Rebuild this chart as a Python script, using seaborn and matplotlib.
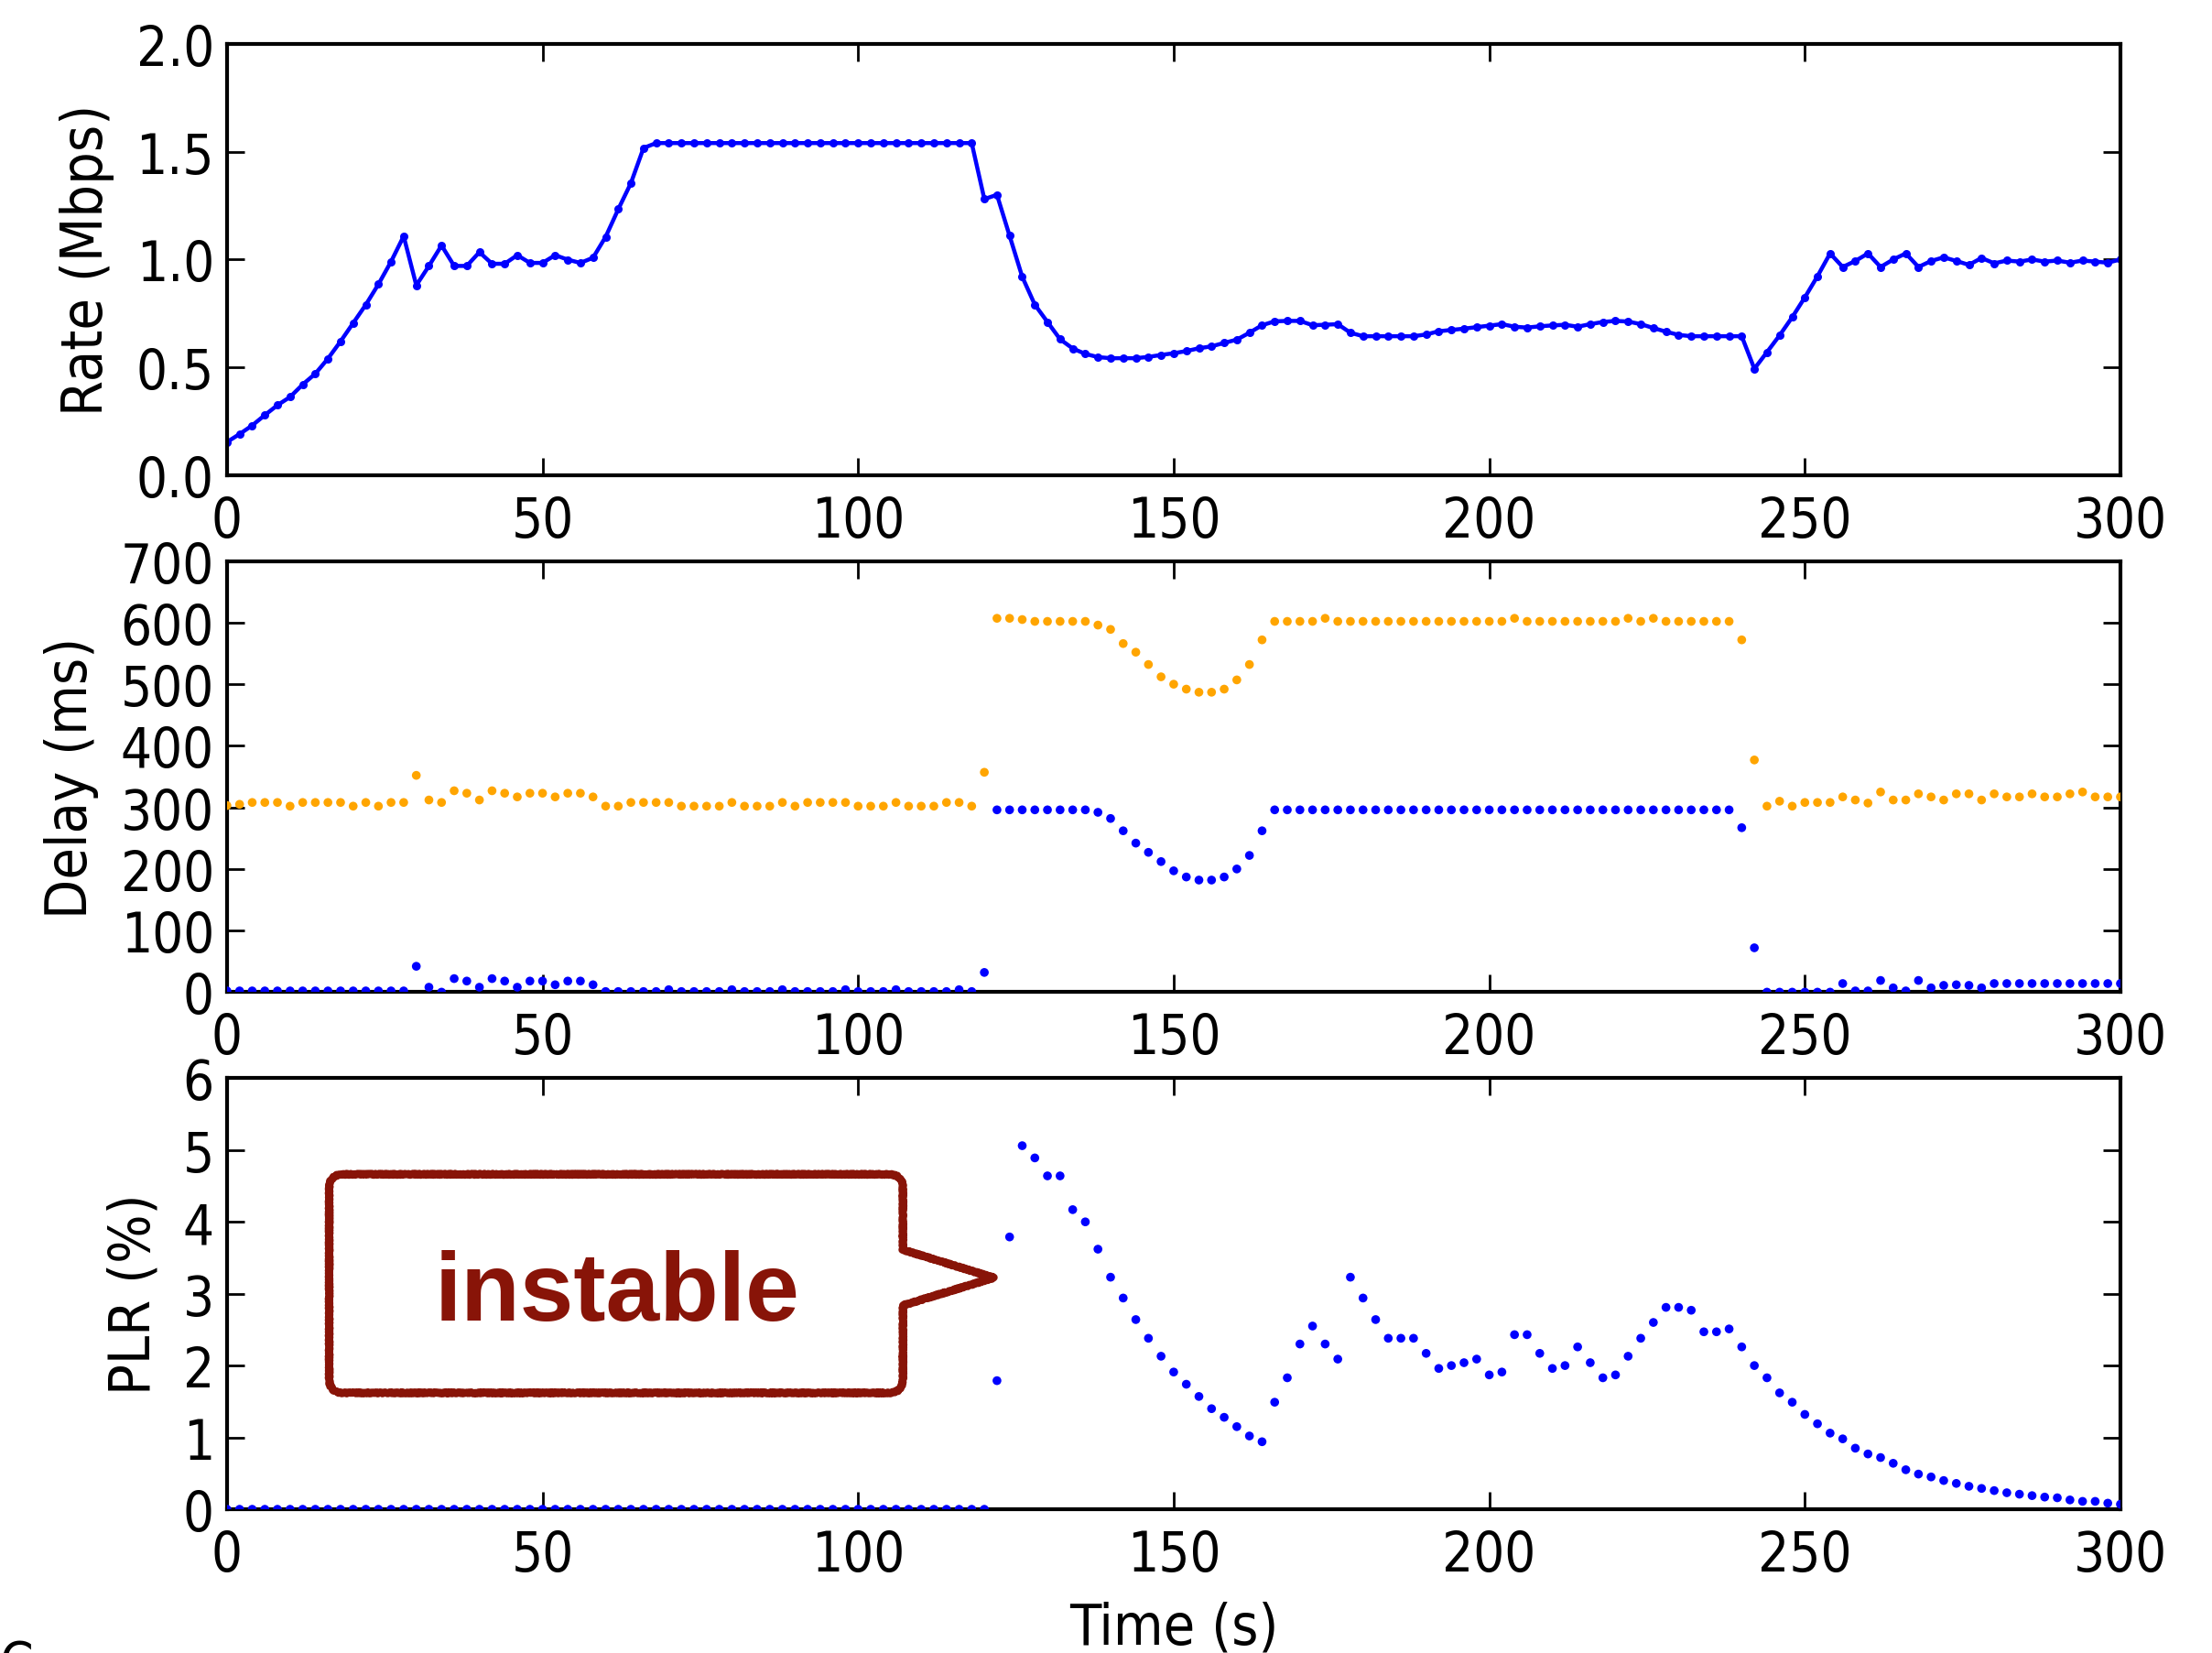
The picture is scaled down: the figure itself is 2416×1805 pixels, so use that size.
import numpy as np
import pandas as pd
import matplotlib
matplotlib.use("Agg")
import matplotlib.pyplot as plt
import seaborn as sns
from matplotlib.path import Path
from matplotlib.patches import PathPatch

# ---------------- data ----------------
time_s = list(range(0, 301, 2))

rate_mbps = [
    0.153, 0.19, 0.23, 0.278, 0.324, 0.362, 0.42, 0.47, 0.54, 0.62,
    0.705, 0.79, 0.885, 0.99, 1.108, 0.88, 0.97, 1.065, 0.97, 0.97,
    1.034, 0.98, 0.98, 1.02, 0.984, 0.984, 1.02, 0.999, 0.984, 1.008,
    1.105, 1.233, 1.354, 1.517, 1.54,
    1.54, 1.54, 1.54, 1.54, 1.54, 1.54, 1.54, 1.54, 1.54, 1.54,
    1.54, 1.54, 1.54, 1.54, 1.54, 1.54, 1.54, 1.54, 1.54, 1.54,
    1.54, 1.54, 1.54, 1.54, 1.54,
    1.28, 1.30, 1.11, 0.92,
    0.79, 0.71, 0.63, 0.587, 0.562, 0.547, 0.542, 0.542, 0.542, 0.548,
    0.557, 0.565, 0.575, 0.588, 0.597, 0.613, 0.628, 0.66, 0.695, 0.713,
    0.715, 0.715, 0.695, 0.697, 0.70, 0.66, 0.644, 0.644, 0.644, 0.644,
    0.644, 0.652, 0.667, 0.673, 0.679, 0.686, 0.693, 0.700, 0.688, 0.684,
    0.690, 0.694, 0.697, 0.688, 0.700, 0.710, 0.715, 0.712, 0.700, 0.682,
    0.665, 0.650, 0.644, 0.644, 0.644, 0.644, 0.644, 0.493, 0.570, 0.648,
    0.732, 0.824, 0.922, 1.028, 0.965, 0.993, 1.028, 0.965, 1.000, 1.028,
    0.965, 0.993, 1.010, 0.993, 0.975, 1.007, 0.982, 0.995, 0.990, 1.000,
    0.990, 0.995, 0.985, 0.995, 0.990, 0.985, 1.000,
]

delay_orange_ms = [
    303, 305, 308, 308, 308, 302, 308, 308, 308, 308,
    302, 308, 302, 308, 308, 352, 312, 308, 327, 323,
    312, 327, 323, 317, 323, 323, 317, 323, 323, 317,
    302, 302, 308, 308, 308, 308, 302, 302, 302, 302,
    308, 302, 302, 302, 308, 302, 308, 308, 308, 308,
    302, 302, 302, 308, 302, 302, 302, 308, 308, 302,
    357, 607, 607, 605, 602, 602, 602, 602, 602, 596,
    589, 566, 552, 532, 512, 500, 492, 487, 487, 492,
    507, 532, 572, 602, 602, 602, 602, 607, 602, 602,
    602, 602, 602, 602, 602, 602, 602, 602, 602, 602,
    602, 602, 607, 602, 602, 602, 602, 602, 602, 602,
    602, 607, 602, 607, 602, 602, 602, 602, 602, 602,
    572, 377, 302, 310, 302, 308, 308, 308, 317, 312,
    307, 325, 312, 312, 322, 317, 312, 322, 322, 312,
    322, 317, 317, 322, 317, 317, 322, 325, 317, 317,
    317,
]

delay_blue_ms = [
    2, 2, 2, 2, 2, 2, 2, 2, 2, 2,
    2, 2, 2, 2, 2, 42, 8, 0, 22, 18,
    8, 22, 18, 8, 18, 18, 12, 18, 18, 12,
    1, 1, 1, 1, 1, 4, 1, 1, 1, 1,
    4, 1, 1, 1, 4, 1, 1, 1, 1, 4,
    1, 1, 1, 4, 1, 1, 1, 1, 4, 1,
    32, 296, 296, 296, 296, 296, 296, 296, 296, 292,
    282, 262, 242, 227, 212, 197, 187, 182, 182, 187,
    200, 222, 262, 296, 296, 296, 296, 296, 296, 296,
    296, 296, 296, 296, 296, 296, 296, 296, 296, 296,
    296, 296, 296, 296, 296, 296, 296, 296, 296, 296,
    296, 296, 296, 296, 296, 296, 296, 296, 296, 296,
    267, 72, 0, 0, 0, 0, 0, 0, 14, 2,
    2, 19, 7, 2, 19, 7, 11, 12, 11, 7,
    14, 14, 14, 14, 14, 14, 14, 14, 14, 14,
    14,
]

plr_pct = [
    0, 0, 0, 0, 0, 0, 0, 0, 0, 0,
    0, 0, 0, 0, 0, 0, 0, 0, 0, 0,
    0, 0, 0, 0, 0, 0, 0, 0, 0, 0,
    0, 0, 0, 0, 0, 0, 0, 0, 0, 0,
    0, 0, 0, 0, 0, 0, 0, 0, 0, 0,
    0, 0, 0, 0, 0, 0, 0, 0, 0, 0,
    0,
    1.79, 3.79, 5.06, 4.89, 4.64, 4.64, 4.17, 4.00, 3.62, 3.23,
    2.94, 2.64, 2.38, 2.13, 1.91, 1.74, 1.57, 1.40, 1.28, 1.15,
    1.02, 0.94,
    1.49, 1.83, 2.30, 2.55, 2.30, 2.09, 3.23, 2.94, 2.64, 2.38,
    2.38, 2.38, 2.17, 1.96, 2.00, 2.04, 2.09, 1.87, 1.91, 2.43,
    2.43, 2.17, 1.96, 2.00, 2.26, 2.04, 1.83, 1.87, 2.13, 2.38,
    2.60, 2.81, 2.81, 2.77, 2.47, 2.47, 2.51, 2.26, 2.00,
    1.83, 1.62, 1.49, 1.32, 1.19, 1.06, 0.98, 0.85, 0.77, 0.72,
    0.64, 0.55, 0.49, 0.45, 0.40, 0.36, 0.32, 0.29, 0.26, 0.23,
    0.21, 0.19, 0.17, 0.16, 0.13, 0.11, 0.11, 0.085, 0.07,
]

x_ticks = [0, 50, 100, 150, 200, 250, 300]
rate_ticks = [0.0, 0.5, 1.0, 1.5, 2.0]
delay_ticks = [0, 100, 200, 300, 400, 500, 600, 700]
plr_ticks = [0, 1, 2, 3, 4, 5, 6]
y_labels = ["Rate (Mbps)", "Delay (ms)", "PLR (%)"]
x_label = "Time (s)"
annotation_text = "instable"

BLUE = "#0000ff"
ORANGE = "#ffa500"
RED = "#881408"

# ---------------- style ----------------
sns.set_style("ticks")
plt.rcParams.update({
    "font.family": ["DejaVu Sans"],
    "font.stretch": "condensed",
    "font.size": 43,
    "axes.linewidth": 3,
    "axes.edgecolor": "black",
    "axes.labelcolor": "black",
    "text.color": "black",
    "xtick.color": "black",
    "ytick.color": "black",
    "xtick.direction": "in",
    "ytick.direction": "in",
    "xtick.top": True,
    "ytick.right": True,
    "xtick.major.size": 14,
    "ytick.major.size": 14,
    "xtick.major.width": 2,
    "ytick.major.width": 2,
    "xtick.major.pad": 15,
    "ytick.major.pad": 10,
    "xtick.labelsize": 43,
    "ytick.labelsize": 43,
    "axes.labelsize": 45,
})

df = pd.DataFrame({
    "time": time_s,
    "rate": rate_mbps,
    "delay_orange": delay_orange_ms,
    "delay_blue": delay_blue_ms,
    "plr": plr_pct,
})

fig, axes = plt.subplots(3, 1, figsize=(24.16, 18.06), dpi=100)
fig.subplots_adjust(left=0.1026, right=0.9586, top=0.9729, bottom=0.0869, hspace=0.1995)
ax1, ax2, ax3 = axes

sns.lineplot(data=df, x="time", y="rate", ax=ax1, color=BLUE, linewidth=3.2,
             marker=".", markersize=13, markeredgewidth=0, markerfacecolor=BLUE)
sns.scatterplot(data=df, x="time", y="delay_orange", ax=ax2, color=ORANGE,
                s=48, edgecolor="none", linewidth=0, zorder=3)
sns.scatterplot(data=df, x="time", y="delay_blue", ax=ax2, color=BLUE,
                s=48, edgecolor="none", linewidth=0, zorder=3)
sns.scatterplot(data=df, x="time", y="plr", ax=ax3, color=BLUE,
                s=48, edgecolor="none", linewidth=0, zorder=3)

for ax, yt, lab in zip(axes, [rate_ticks, delay_ticks, plr_ticks], y_labels):
    ax.set_xlim(0, 300)
    ax.set_ylim(yt[0], yt[-1])
    ax.set_xticks(x_ticks)
    ax.set_yticks(yt)
    ax.set_ylabel(lab, labelpad=17)
    ax.set_xlabel("")
    for s in ax.spines.values():
        s.set_visible(True)
        s.set_linewidth(3)
        s.set_color("black")

ax1.set_yticklabels([f"{v:.1f}" for v in rate_ticks])
ax3.set_xlabel(x_label, labelpad=14)

# ---------------- callout "instable" ----------------
L, R, T, B = 0.054, 0.357, 0.777, 0.270
rx, ry = 0.0075, 0.033
ptop, pbot, tipx, tipy = 0.602, 0.473, 0.405, 0.537
verts = [
    (L + rx, T), (R - rx, T),
    (R, T), (R, T - ry),
    (R, ptop), (tipx, tipy), (R, pbot),
    (R, B + ry),
    (R, B), (R - rx, B),
    (L + rx, B),
    (L, B), (L, B + ry),
    (L, T - ry),
    (L, T), (L + rx, T),
    (L + rx, T),
]
codes = [
    Path.MOVETO, Path.LINETO,
    Path.CURVE3, Path.CURVE3,
    Path.LINETO, Path.LINETO, Path.LINETO,
    Path.LINETO,
    Path.CURVE3, Path.CURVE3,
    Path.LINETO,
    Path.CURVE3, Path.CURVE3,
    Path.LINETO,
    Path.CURVE3, Path.CURVE3,
    Path.CLOSEPOLY,
]
box_path = Path(verts, codes)
box = PathPatch(box_path, transform=ax3.transAxes, facecolor="white",
                edgecolor=RED, linewidth=6, joinstyle="round", zorder=6,
                clip_on=False)
box.set_sketch_params(scale=0.8, length=4, randomness=2)
ax3.add_patch(box)
box2 = PathPatch(box_path, transform=ax3.transAxes, facecolor="none",
                 edgecolor=RED, linewidth=2.5, joinstyle="round", zorder=6,
                 clip_on=False, alpha=0.85)
box2.set_sketch_params(scale=2.2, length=2, randomness=3)
ax3.add_patch(box2)

ax3.text(0.206, 0.439, annotation_text, transform=ax3.transAxes,
         ha="center", va="baseline", color=RED, fontsize=76,
         fontweight="bold", family=["Liberation Sans", "DejaVu Sans"],
         fontstretch="normal", zorder=7)

# cut-off caption letter at the bottom-left edge (as in the source image)
fig.text(0.0, -0.016, "C", ha="left", va="baseline", fontsize=42)

fig.savefig("out.png", dpi=100)
